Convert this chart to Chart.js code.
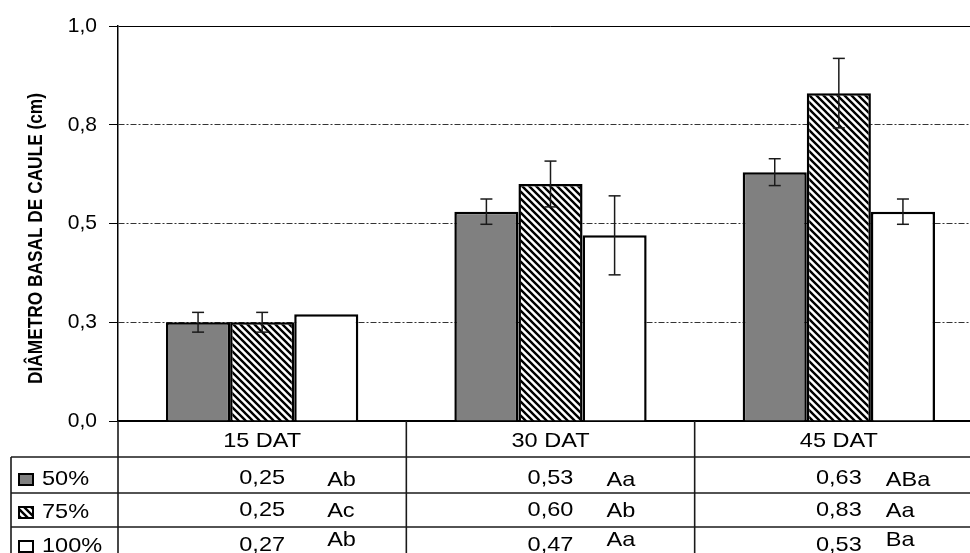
<!DOCTYPE html>
<html>
<head>
<meta charset="utf-8">
<script src="https://cdn.jsdelivr.net/npm/chart.js@4/dist/chart.umd.min.js"></script>
<style>
  html, body { margin: 0; padding: 0; background: #fff; width: 970px; height: 553px; overflow: hidden; }
  canvas { display: block; }
</style>
</head>
<body>
<canvas id="chart" width="990" height="553"></canvas>
<script>
// Stem basal diameter (cm) at 15, 30 and 45 days after transplanting
const categories = ['15 DAT', '30 DAT', '45 DAT'];
const seriesNames = ['50%', '75%', '100%'];
const values50 = [0.25, 0.53, 0.63];
const values75 = [0.25, 0.60, 0.83];
const values100 = [0.27, 0.47, 0.53];
const errors50 = [0.025, 0.032, 0.034];
const errors75 = [0.025, 0.058, 0.088];
const errors100 = [0, 0.10, 0.032];
const letters50 = ['Ab', 'Aa', 'ABa'];
const letters75 = ['Ac', 'Ab', 'Aa'];
const letters100 = ['Ab', 'Aa', 'Ba'];
const yTickLabels = ['0,0', '0,3', '0,5', '0,8', '1,0'];
const yTitle = 'DIÂMETRO BASAL DE CAULE (cm)';

const seriesValues = [values50, values75, values100];
const seriesErrors = [errors50, errors75, errors100];
const seriesLetters = [letters50, letters75, letters100];

const FONT = '"Liberation Sans", Arial, Helvetica, sans-serif';
const canvas = document.getElementById('chart');
const ctx0 = canvas.getContext('2d');

// diagonal hatch used for the 75% series
function makeHatch() {
  const p = 7;
  const c = document.createElement('canvas');
  c.width = p; c.height = p;
  const g = c.getContext('2d');
  g.fillStyle = '#fff';
  g.fillRect(0, 0, p, p);
  g.strokeStyle = '#000';
  g.lineWidth = 2.4;
  g.beginPath();
  for (let k = -1; k <= 1; k++) {
    g.moveTo(k * p - 1, -1);
    g.lineTo(k * p + p + 1, p + 1);
  }
  g.stroke();
  return ctx0.createPattern(c, 'repeat');
}
const fills = ['#808080', makeHatch(), '#ffffff'];

const fmt = v => v.toFixed(2).replace('.', ',');

function stretchedText(ctx, str, x, y, align) {
  ctx.save();
  ctx.translate(x, y);
  ctx.scale(1.12, 1);
  ctx.textAlign = align;
  ctx.textBaseline = 'alphabetic';
  ctx.fillText(str, 0, 0);
  ctx.restore();
}

function line(ctx, x1, y1, x2, y2) {
  ctx.beginPath();
  ctx.moveTo(x1, y1);
  ctx.lineTo(x2, y2);
  ctx.stroke();
}

const errorBars = {
  id: 'errorBars',
  afterDatasetsDraw(chart) {
    const { ctx, scales: { y } } = chart;
    ctx.save();
    ctx.strokeStyle = '#1a1a1a';
    ctx.lineWidth = 1.5;
    seriesErrors.forEach((errs, di) => {
      const meta = chart.getDatasetMeta(di);
      meta.data.forEach((bar, i) => {
        const e = errs[i];
        if (!e) return;
        const v = seriesValues[di][i];
        const x = bar.x;
        const yt = y.getPixelForValue(v + e);
        const yb = y.getPixelForValue(v - e);
        line(ctx, x, yt, x, yb);
        line(ctx, x - 6, yt, x + 6, yt);
        line(ctx, x - 6, yb, x + 6, yb);
      });
    });
    ctx.restore();
  }
};

const dataTable = {
  id: 'dataTable',
  afterDraw(chart) {
    const { ctx, chartArea: { left, right, bottom }, scales: { x } } = chart;
    const H = chart.height;
    const rowLines = [457, 493, 527];
    const tableLeft = 11;
    const valueBase = [484, 516, 551];
    const letterBase = [486, 517, 546];
    const letterShift = [65, 56, 47];
    const legendBase = [485, 518, 552];

    ctx.save();
    ctx.strokeStyle = '#1a1a1a';
    ctx.lineWidth = 1.6;
    rowLines.forEach(yy => line(ctx, tableLeft, yy, right, yy));
    line(ctx, tableLeft, rowLines[0], tableLeft, H);
    line(ctx, left, bottom, left, H);
    for (let i = 1; i < categories.length; i++) {
      const bx = (x.getPixelForValue(i - 1) + x.getPixelForValue(i)) / 2;
      line(ctx, bx, bottom, bx, H);
    }
    line(ctx, right, bottom, right, H);

    ctx.fillStyle = '#000';
    ctx.font = '21px ' + FONT;
    categories.forEach((cat, i) => {
      stretchedText(ctx, cat, x.getPixelForValue(i), 447, 'center');
    });

    seriesNames.forEach((name, si) => {
      // legend key
      const sy = legendBase[si] - 11;
      ctx.fillStyle = fills[si];
      ctx.fillRect(19, sy, 14, 11);
      ctx.strokeStyle = '#000';
      ctx.lineWidth = 2;
      ctx.strokeRect(19, sy, 14, 11);
      ctx.fillStyle = '#000';
      stretchedText(ctx, name, 42, legendBase[si], 'left');

      categories.forEach((cat, i) => {
        const cx = x.getPixelForValue(i);
        stretchedText(ctx, fmt(seriesValues[si][i]), cx, valueBase[si], 'center');
        stretchedText(ctx, seriesLetters[si][i], cx + letterShift[i], letterBase[si], 'left');
      });
    });

    // vertical axis title, condensed to the axis height
    ctx.font = 'bold 21px ' + FONT;
    const w = ctx.measureText(yTitle).width;
    ctx.translate(42, 238.5);
    ctx.rotate(-Math.PI / 2);
    ctx.scale(291 / w, 1);
    ctx.textAlign = 'center';
    ctx.textBaseline = 'alphabetic';
    ctx.fillText(yTitle, 0, 0);
    ctx.restore();
  }
};

new Chart(canvas, {
  type: 'bar',
  data: {
    labels: categories,
    datasets: seriesNames.map((name, i) => ({
      label: name,
      data: seriesValues[i],
      backgroundColor: fills[i],
      borderColor: '#000',
      borderWidth: 2.5
    }))
  },
  options: {
    responsive: false,
    animation: false,
    devicePixelRatio: 1,
    layout: { padding: { left: 0, right: 7, top: 26, bottom: 132 } },
    datasets: { bar: { categoryPercentage: 0.667, barPercentage: 1 } },
    plugins: { legend: { display: false }, tooltip: { enabled: false }, title: { display: false } },
    scales: {
      x: {
        ticks: { display: false },
        grid: { display: false },
        border: { display: true, color: '#000', width: 2 },
        afterFit: s => { s.height = 0; }
      },
      y: {
        min: 0,
        max: 1,
        ticks: {
          stepSize: 0.25,
          padding: 12,
          color: '#000',
          font: { family: FONT, size: 21 },
          callback: (v, i) => yTickLabels[i]
        },
        grid: {
          color: c => (c.tick && (c.tick.value === 0 || c.tick.value === 1)) ? '#000' : '#333',
          lineWidth: 1,
          tickLength: 9,
          tickColor: '#000',
          tickWidth: 1
        },
        border: {
          display: true,
          color: '#000',
          width: 1.5,
          dash: c => (c.tick && c.tick.value > 0 && c.tick.value < 1) ? [6, 2, 2, 2] : []
        },
        afterFit: s => { s.width = 118; }
      }
    }
  },
  plugins: [errorBars, dataTable]
});
</script>
</body>
</html>
